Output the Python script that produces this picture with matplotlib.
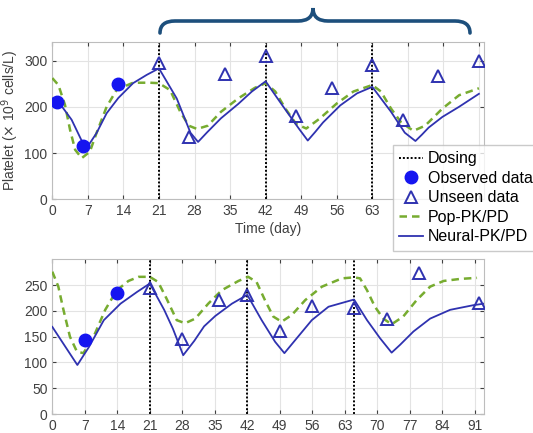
import matplotlib
matplotlib.use("Agg")
import matplotlib.pyplot as plt
from matplotlib.path import Path
from matplotlib.patches import PathPatch
from matplotlib.lines import Line2D

plt.rcParams['font.family'] = ['Liberation Sans', 'DejaVu Sans']

# ---- top panel data ----
top_neural_t = [0, 1.2, 3.8, 6.6, 8.7, 10.7, 13, 15.9, 18.6, 21, 24.5, 27.2, 28.7, 30.5, 33.2, 36.6, 39.3,
                42, 45.3, 48.6, 50.3, 51.8, 53.3, 56.7, 60, 63, 66.7, 69.4, 71.5, 72.8, 74.1, 76.8, 80.1, 84]
top_neural_v = [218, 211, 172, 108, 143, 186, 219, 251, 269, 283, 218, 144, 124, 145, 175, 206, 233,
                255, 203, 152, 127, 146, 166, 203, 229, 243, 189, 144, 126, 140, 155, 178, 200, 228]
top_pop_t = [0, 1.2, 2.5, 3.5, 4.5, 5.8, 7.4, 8.7, 10.7, 12.7, 15.9, 19.2, 21, 23.2, 25.2, 26.9,
             28.5, 30.6, 33.2, 36.6, 39.9, 42, 43.9, 45.9, 48, 50, 52.6, 56, 59.3, 63, 64.7,
             66.7, 68.7, 71.1, 73.4, 76.8, 80.1, 84]
top_pop_v = [262, 247, 204, 150, 107, 89, 103, 143, 200, 237, 252, 252, 251, 236, 189, 159,
             152, 159, 189, 218, 241, 251, 233, 196, 163, 153, 174, 207, 233, 247, 233,
             196, 166, 148, 159, 196, 225, 240]
top_obs_t = [1, 6, 13]
top_obs_v = [210, 115, 250]
top_unseen_t = [21, 27, 34, 42, 48, 55, 63, 69, 76, 84]
top_unseen_v = [295, 134, 270, 309, 180, 241, 290, 172, 266, 298]
top_dosing = [0, 21, 42, 63]
top_xticks = list(range(0, 85, 7))
# the last three labels sit behind the legend in the reference
top_xticklabels = [str(t) if t < 70 else '' for t in top_xticks]

# ---- bottom panel data ----
bot_neural_t = [0, 5.4, 7.9, 11.1, 14.7, 18.3, 21, 24.1, 26, 28.2, 30.6, 32.7, 35.1, 38.7, 42,
                45.1, 48, 50, 52.3, 55.9, 59.5, 65, 67.8, 70.6, 73.1, 74.9, 77.8, 81.4, 85.7, 90.7, 93]
bot_neural_v = [169, 95, 130, 182, 214, 237, 253, 202, 165, 114, 142, 170, 190, 214, 231,
                182, 140, 118, 143, 182, 208, 222, 182, 147, 119, 134, 160, 185, 202, 211, 214]
bot_pop_t = [0, 1.3, 2.4, 3.8, 5.3, 6.7, 8.9, 11.4, 13.9, 16.4, 18.6, 21, 22.8, 24.6, 26.8, 28.6,
             30.8, 33.6, 36.5, 40.1, 42.2, 44, 45.8, 47.6, 49.4, 51.6, 54.5, 58.1, 62.4, 65, 66.3,
             67.8, 69.5, 71.3, 73.1, 75.6, 78.5, 81.4, 84.3, 87.9, 91.5]
bot_pop_v = [276, 247, 202, 150, 121, 118, 150, 202, 240, 258, 266, 266, 256, 224, 182, 176,
             185, 214, 240, 258, 266, 256, 221, 189, 179, 192, 221, 247, 263, 265, 263,
             240, 208, 185, 174, 189, 221, 247, 258, 262, 264]
bot_obs_t = [7, 14]
bot_obs_v = [143, 234]
bot_unseen_t = [21, 28, 36, 42, 49, 56, 65, 72, 79, 92]
bot_unseen_v = [244, 145, 221, 231, 161, 209, 205, 184, 274, 216]
bot_dosing = [0, 21, 42, 65]

blue_line = '#2f32b0'
blue_dot = '#1515f0'
green = '#77AC30'
tick_col = '#404040'

W, H = 533, 433
fig = plt.figure(figsize=(W / 100, H / 100), dpi=100)


def px_axes(l, t, r, b):
    return fig.add_axes([l / W, 1 - b / H, (r - l) / W, (b - t) / H])


def draw_panel(ax, dosing, pop_t, pop_v, nt, nv, ot, ov, ut, uv):
    for d in dosing:
        ax.axvline(d, color='k', ls=(0, (1, 1)), lw=1.4, zorder=2)
    ax.plot(pop_t, pop_v, color=green, lw=1.8, dashes=(3, 2), zorder=3)
    ax.plot(nt, nv, color=blue_line, lw=1.3, zorder=4)
    ax.plot(ot, ov, 'o', color=blue_dot, ms=9, zorder=5)
    ax.plot(ut, uv, '^', mfc='none', mec=blue_line, mew=1.4, ms=8, zorder=5)
    ax.grid(True, color='#e3e3e3', lw=0.8)
    ax.set_axisbelow(True)
    for s in ax.spines.values():
        s.set_color('#bdbdbd')
        s.set_linewidth(0.8)
    ax.tick_params(labelsize=10, colors=tick_col, length=3, direction='in',
                   top=True, right=True)


ax1 = px_axes(52.3, 42, 484, 199.3)
draw_panel(ax1, top_dosing, top_pop_t, top_pop_v, top_neural_t, top_neural_v,
           top_obs_t, top_obs_v, top_unseen_t, top_unseen_v)
ax1.set_xlim(0, 85)
ax1.set_ylim(0, 340)
ax1.set_xticks(top_xticks)
ax1.set_xticklabels(top_xticklabels)
ax1.set_yticks([0, 100, 200, 300])
ax1.set_xlabel('Time (day)', fontsize=10, color=tick_col, labelpad=3)
ax1.set_ylabel(r'Platelet ($\times$ 10$^9$ cells/L)', fontsize=10, color=tick_col, labelpad=2)

ax2 = px_axes(52.3, 259.3, 484, 414)
draw_panel(ax2, bot_dosing, bot_pop_t, bot_pop_v, bot_neural_t, bot_neural_v,
           bot_obs_t, bot_obs_v, bot_unseen_t, bot_unseen_v)
ax2.set_xlim(0, 93)
ax2.set_ylim(0, 300)
ax2.set_xticks(range(0, 92, 7))
ax2.set_yticks([0, 50, 100, 150, 200, 250])

# legend
handles = [
    Line2D([], [], color='k', ls=(0, (1, 1)), lw=1.4),
    Line2D([], [], ls='none', marker='o', color=blue_dot, ms=9),
    Line2D([], [], ls='none', marker='^', mfc='none', mec=blue_line, mew=1.4, ms=8),
    Line2D([], [], color=green, lw=1.8, dashes=(3, 2)),
    Line2D([], [], color=blue_line, lw=1.3),
]
labels = ['Dosing', 'Observed data', 'Unseen data', 'Pop-PK/PD', 'Neural-PK/PD']
leg = fig.legend(handles, labels, loc='upper left', bbox_to_anchor=(393 / W, 1 - 145 / H),
                 fontsize=11.5, frameon=True, fancybox=False, handlelength=1.5,
                 handletextpad=0.3, labelspacing=0.28, borderpad=0.4, borderaxespad=0)
leg.get_frame().set_edgecolor('#bdbdbd')
leg.get_frame().set_linewidth(1.0)
leg.set_zorder(10)

# curly brace above the unseen region
verts = [(160, 33), (160, 21), (175, 21),
         (298, 21), (313, 21), (313, 8),
         (313, 21), (328, 21),
         (455, 21), (470, 21), (470, 33)]
verts = [(x / W, 1 - y / H) for x, y in verts]
codes = [Path.MOVETO, Path.CURVE3, Path.CURVE3,
         Path.LINETO, Path.CURVE3, Path.CURVE3,
         Path.CURVE3, Path.CURVE3,
         Path.LINETO, Path.CURVE3, Path.CURVE3]
fig.patches.append(PathPatch(Path(verts, codes), transform=fig.transFigure,
                             fill=False, edgecolor='#1d4f7c', lw=2.6, capstyle='round'))

fig.savefig('out.png', dpi=100)
